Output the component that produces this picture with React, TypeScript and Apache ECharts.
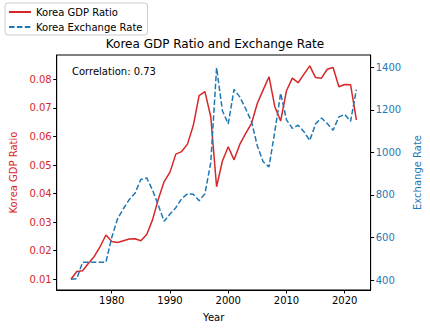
import React, { useEffect, useRef } from "react";
import * as echarts from "echarts";

const years: number[] = [
  1973, 1974, 1975, 1976, 1977, 1978, 1979, 1980, 1981, 1982, 1983, 1984, 1985, 1986, 1987, 1988, 1989,
  1990, 1991, 1992, 1993, 1994, 1995, 1996, 1997, 1998, 1999, 2000, 2001, 2002, 2003, 2004, 2005, 2006,
  2007, 2008, 2009, 2010, 2011, 2012, 2013, 2014, 2015, 2016, 2017, 2018, 2019, 2020, 2021, 2022,
];

const gdpRatio: number[] = [
  0.0100, 0.0127, 0.0130, 0.0156, 0.0180, 0.0214, 0.0255, 0.0232, 0.0229, 0.0235, 0.0241, 0.0242, 0.0235,
  0.0257, 0.0308, 0.0381, 0.0442, 0.0475, 0.0538, 0.0547, 0.0573, 0.0638, 0.0743, 0.0757, 0.0669, 0.0424,
  0.0514, 0.0564, 0.0518, 0.0573, 0.0611, 0.0646, 0.0716, 0.0763, 0.0809, 0.0704, 0.0654, 0.0760, 0.0804,
  0.0788, 0.0818, 0.0847, 0.0806, 0.0804, 0.0835, 0.0841, 0.0774, 0.0782, 0.0781, 0.0658,
];

const exchangeRate: number[] = [
  403, 406, 484, 484, 484, 484, 484, 600, 688, 735, 778, 808, 873, 880, 823, 751, 676, 710, 740, 782, 805,
  803, 773, 806, 951, 1398, 1196, 1134, 1296, 1260, 1205, 1144, 1030, 956, 932, 1099, 1278, 1153, 1113, 1128,
  1097, 1056, 1135, 1162, 1136, 1104, 1167, 1179, 1146, 1295,
];

const xTicks: number[] = [1980, 1990, 2000, 2010, 2020];
const leftTicks: number[] = [0.01, 0.02, 0.03, 0.04, 0.05, 0.06, 0.07, 0.08];
const rightTicks: number[] = [400, 600, 800, 1000, 1200, 1400];

const RED = "#d62728";
const BLUE = "#1f77b4";
const FONT = "DejaVu Sans";

export default function App() {
  const ref = useRef<HTMLDivElement>(null);
  useEffect(() => {
    if (!ref.current) return;
    const chart = echarts.init(ref.current, undefined, { renderer: "svg" });
    const gdpData = years.map((y, i) => [y, gdpRatio[i]]);
    const rateData = years.map((y, i) => [y, exchangeRate[i]]);
    chart.setOption({
      animation: false,
      backgroundColor: "#ffffff",
      textStyle: { fontFamily: FONT },
      title: {
        text: "Korea GDP Ratio and Exchange Rate",
        left: "center",
        top: 38,
        padding: 0,
        textStyle: { fontFamily: FONT, fontSize: 12, fontWeight: "normal", color: "#000" },
      },
      legend: {
        orient: "vertical",
        left: 5,
        top: 3,
        padding: [4, 5, 3, 3],
        itemGap: 5,
        itemWidth: 22,
        itemHeight: 10,
        borderColor: "#cccccc",
        borderWidth: 1,
        borderRadius: 3,
        itemStyle: { opacity: 0 },
        textStyle: { fontFamily: FONT, fontSize: 10, color: "#000" },
        data: ["Korea GDP Ratio", "Korea Exchange Rate"],
      },
      grid: {
        left: 56.7,
        right: 52.7,
        top: 55,
        bottom: 39,
        show: true,
        borderColor: "#000",
        borderWidth: 1,
        backgroundColor: "transparent",
      },
      xAxis: {
        type: "value",
        min: 1970.55,
        max: 2024.45,
        name: "Year",
        nameLocation: "middle",
        nameGap: 22,
        nameTextStyle: { fontFamily: FONT, fontSize: 10, color: "#000" },
        axisLine: { show: true, lineStyle: { color: "#000", width: 1 } },
        axisTick: { show: true, length: 3.5, customValues: xTicks, lineStyle: { color: "#000" } },
        axisLabel: {
          customValues: xTicks,
          fontFamily: FONT,
          fontSize: 10,
          color: "#000",
          margin: 5,
          formatter: (v: number) => String(Math.round(v)),
        },
        splitLine: { show: false },
      },
      yAxis: [
        {
          type: "value",
          position: "left",
          min: 0.00625,
          max: 0.0885,
          name: "Korea GDP Ratio",
          nameLocation: "middle",
          nameRotate: 90,
          nameGap: 33,
          nameTextStyle: { fontFamily: FONT, fontSize: 10, color: RED },
          axisLine: { show: true, lineStyle: { color: "#000", width: 1 } },
          axisTick: { show: true, length: 3.5, customValues: leftTicks, lineStyle: { color: "#000" } },
          axisLabel: {
            customValues: leftTicks,
            fontFamily: FONT,
            fontSize: 10,
            color: RED,
            margin: 5,
            formatter: (v: number) => v.toFixed(2),
          },
          splitLine: { show: false },
        },
        {
          type: "value",
          position: "right",
          min: 353,
          max: 1458,
          name: "Exchange Rate",
          nameLocation: "middle",
          nameRotate: 90,
          nameGap: 33,
          nameTextStyle: { fontFamily: FONT, fontSize: 10, color: BLUE },
          axisLine: { show: true, lineStyle: { color: "#000", width: 1 } },
          axisTick: { show: true, length: 3.5, customValues: rightTicks, lineStyle: { color: "#000" } },
          axisLabel: {
            customValues: rightTicks,
            fontFamily: FONT,
            fontSize: 10,
            color: BLUE,
            margin: 5,
            formatter: (v: number) => String(Math.round(v)),
          },
          splitLine: { show: false },
        },
      ],
      graphic: [
        {
          type: "text",
          left: 72,
          top: 66,
          style: { text: "Correlation: 0.73", fontFamily: FONT, fontSize: 10, fill: "#000" },
        },
      ],
      series: [
        {
          name: "Korea GDP Ratio",
          type: "line",
          yAxisIndex: 0,
          data: gdpData,
          symbol: "none",
          showSymbol: false,
          itemStyle: { color: RED },
          lineStyle: { color: RED, width: 1.5 },
        },
        {
          name: "Korea Exchange Rate",
          type: "line",
          yAxisIndex: 1,
          data: rateData,
          symbol: "none",
          showSymbol: false,
          itemStyle: { color: BLUE },
          lineStyle: { color: BLUE, width: 1.5, type: [5.5, 2.4] },
        },
      ],
    });
    return () => chart.dispose();
  }, []);
  return (
    <div
      ref={ref}
      style={{ position: "fixed", left: 0, top: 0, width: 430, height: 329 }}
    />
  );
}
